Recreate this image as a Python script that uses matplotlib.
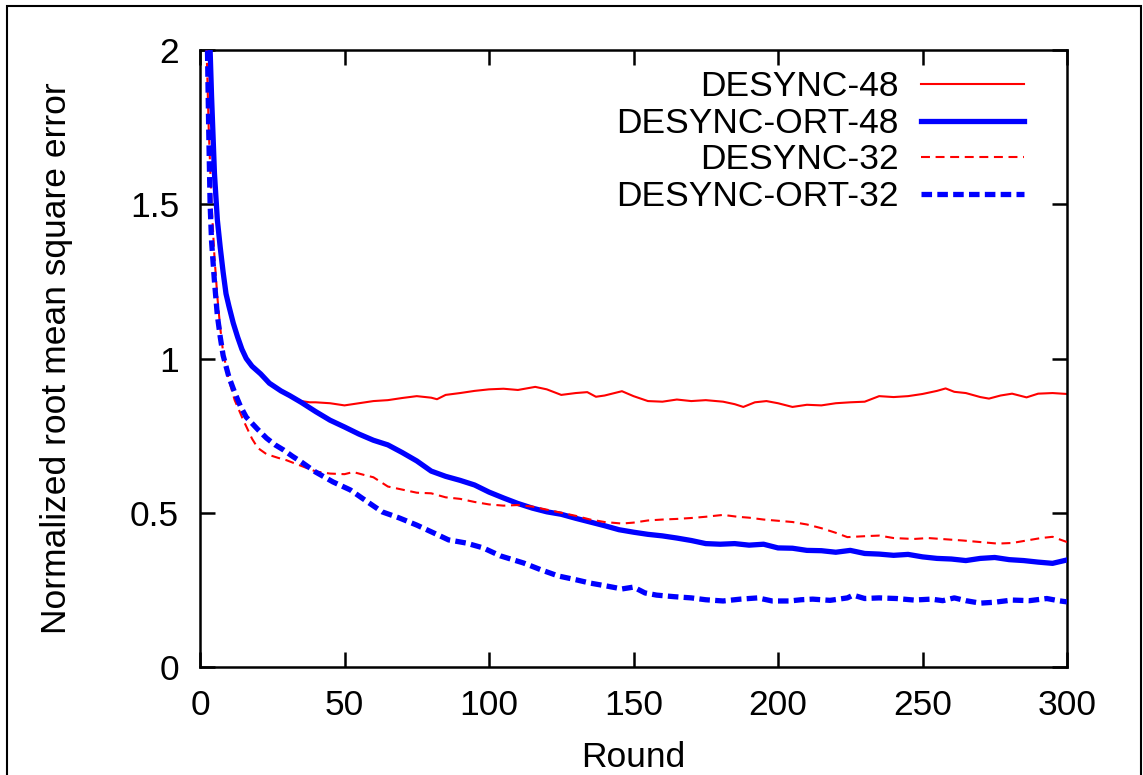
import matplotlib
matplotlib.use("Agg")
import matplotlib.pyplot as plt
from matplotlib.patches import Rectangle

plt.rcParams['font.family'] = ['Liberation Sans', 'DejaVu Sans']

# DESYNC-48
r_d48 = [3, 3.5, 4, 5, 6, 7, 8, 9, 10, 11.5, 13, 14.5, 16, 18, 21, 24, 28, 31, 35,
         38, 40, 45, 50, 55, 60, 65, 70, 75, 80, 82, 85, 90, 95, 100, 105, 110, 116,
         120, 125, 130, 134, 137, 140, 146, 150, 155, 160, 165, 170, 175, 181, 185,
         188, 192, 196, 200, 205, 210, 215, 220, 225, 230, 235, 240, 245, 250, 255,
         258, 261, 265, 270, 273, 277, 281, 286, 290, 295, 300]
v_d48 = [2.1, 1.98, 1.83, 1.58, 1.44, 1.35, 1.27, 1.2, 1.16, 1.11, 1.065, 1.028, 1.0,
         0.975, 0.95, 0.92, 0.895, 0.88, 0.862,
         0.858, 0.858, 0.855, 0.848, 0.855, 0.862, 0.865, 0.872, 0.878, 0.873, 0.868,
         0.882, 0.888, 0.895, 0.9, 0.902, 0.898, 0.908,
         0.9, 0.882, 0.888, 0.891, 0.876, 0.88, 0.894, 0.878, 0.862, 0.86, 0.867,
         0.862, 0.865, 0.86, 0.852,
         0.843, 0.858, 0.862, 0.855, 0.843, 0.85, 0.848, 0.855, 0.858, 0.86, 0.878,
         0.875, 0.878, 0.885, 0.895,
         0.903, 0.892, 0.888, 0.875, 0.87, 0.88, 0.886, 0.874, 0.886, 0.888, 0.885]

# DESYNC-ORT-48
r_o48 = [3, 3.5, 4, 5, 6, 7, 8, 9, 10, 11.5, 13, 14.5, 16, 18, 21, 24, 28, 31, 35,
         40, 45, 50, 55, 60, 65, 70, 75, 80, 85, 90, 95, 100, 105, 110, 115, 120, 125,
         130, 135, 140, 145, 150, 155, 160, 165, 170, 175, 180, 185, 190, 195, 200,
         205, 210, 215, 220, 225, 230, 235, 240, 245, 250, 255, 260, 265, 270, 275,
         280, 285, 290, 295, 300]
v_o48 = [2.1, 2.0, 1.85, 1.6, 1.45, 1.36, 1.28, 1.21, 1.17, 1.115, 1.07, 1.03, 1.0,
         0.975, 0.95, 0.92, 0.895, 0.88, 0.858,
         0.828, 0.8, 0.778, 0.755, 0.735, 0.72, 0.695, 0.668, 0.635, 0.618, 0.605,
         0.59, 0.567, 0.548, 0.53, 0.515, 0.503, 0.495,
         0.482, 0.47, 0.458, 0.445, 0.437, 0.43, 0.425, 0.418, 0.41, 0.4, 0.398, 0.4,
         0.395, 0.398, 0.386,
         0.385, 0.378, 0.377, 0.372, 0.378, 0.368, 0.366, 0.362, 0.365, 0.357, 0.352,
         0.35, 0.345, 0.352, 0.355,
         0.348, 0.345, 0.34, 0.336, 0.347]

# DESYNC-32
r_d32 = [2, 3, 4, 5, 6, 7, 8, 10, 12, 15, 18, 20, 23, 27, 30, 35, 40, 45, 50, 53, 57,
         60, 65, 70, 75, 80, 85, 90, 95, 100, 105, 110, 115, 120, 125, 130, 135, 140,
         146, 150, 155, 160, 165, 170, 175, 181, 186, 190, 195, 200, 205, 210, 215,
         220, 224, 230, 235, 240, 247, 252, 258, 264, 270, 276, 281, 286, 291, 295, 300]
v_d32 = [2.1, 1.75, 1.5, 1.33, 1.2, 1.1, 1.02, 0.93, 0.865, 0.8, 0.74, 0.71, 0.69,
         0.678, 0.67, 0.652, 0.634, 0.627, 0.625, 0.632, 0.622,
         0.615, 0.585, 0.575, 0.565, 0.563, 0.55, 0.545, 0.535, 0.527, 0.523, 0.525,
         0.52, 0.51, 0.5, 0.49, 0.478, 0.47,
         0.465, 0.468, 0.475, 0.478, 0.48, 0.483, 0.487, 0.493, 0.487, 0.484, 0.478,
         0.474, 0.47, 0.462, 0.45,
         0.435, 0.421, 0.424, 0.426, 0.418, 0.415, 0.418, 0.414, 0.41, 0.405, 0.4,
         0.402, 0.41, 0.418, 0.422, 0.405]

# DESYNC-ORT-32
r_o32 = [2.5, 3, 3.5, 4, 5, 6, 7, 8, 10, 12, 14, 16, 20, 23, 26, 29, 32, 35, 40, 46,
         52, 58, 63, 69, 75, 81, 86, 92, 98, 104, 112, 118, 124, 130, 135, 141, 146,
         150, 154, 158, 164, 170, 175, 181, 187, 193, 198, 204, 208, 212, 218, 224,
         226, 230, 235, 241, 247, 253, 257, 261, 265, 270, 275, 281, 287, 293, 297, 300]
v_o32 = [2.05, 1.75, 1.5, 1.38, 1.25, 1.14, 1.07, 1.01, 0.94, 0.89, 0.845, 0.81, 0.77,
         0.742, 0.72, 0.703, 0.683, 0.665, 0.632, 0.6,
         0.574, 0.535, 0.503, 0.483, 0.46, 0.434, 0.412, 0.402, 0.386, 0.36, 0.337,
         0.315, 0.295, 0.283, 0.272, 0.262, 0.253,
         0.259, 0.24, 0.233, 0.228, 0.224, 0.218, 0.214, 0.22, 0.224, 0.214, 0.214,
         0.218, 0.22, 0.216, 0.224,
         0.233, 0.222, 0.224, 0.222, 0.217, 0.22, 0.215, 0.224, 0.215, 0.207, 0.21,
         0.217, 0.215, 0.222, 0.215, 0.211]

x_ticks = [0, 50, 100, 150, 200, 250, 300]
y_ticks = [0, 0.5, 1, 1.5, 2]
y_tick_labels = ['0', '0.5', '1', '1.5', '2']

FS = 25.5

fig = plt.figure(figsize=(11.43, 7.75), dpi=100)
ax = fig.add_axes([200 / 1143, 108 / 775, 867 / 1143, 617 / 775])

ax.plot(r_d48, v_d48, color='#ff0000', lw=1.5, label='DESYNC-48', zorder=2)
ax.plot(r_o48, v_o48, color='#0000ff', lw=3.8, label='DESYNC-ORT-48', zorder=3)
ax.plot(r_d32, v_d32, color='#ff0000', lw=1.5, dashes=(4.3, 2.7),
        label='DESYNC-32', zorder=4)
ax.plot(r_o32, v_o32, color='#0000ff', lw=3.8, dashes=(2.0, 1.0),
        label='DESYNC-ORT-32', zorder=5)

ax.set_xlim(0, 300)
ax.set_ylim(0, 2)
ax.set_xticks(x_ticks)
ax.set_yticks(y_ticks)
ax.set_yticklabels(y_tick_labels)

for s in ax.spines.values():
    s.set_linewidth(1.8)
ax.tick_params(direction='in', length=11, width=1.8, top=True, right=True,
               labelsize=FS)
ax.tick_params(axis='x', pad=16)
ax.tick_params(axis='y', pad=15)

ax.set_xlabel('Round', fontsize=FS)
ax.set_ylabel('Normalized root mean square error', fontsize=FS)
ax.xaxis.set_label_coords(0.5, -0.12)
ax.yaxis.set_label_coords(-0.147, 0.5)

ax.legend(loc='upper right', bbox_to_anchor=(0.950, 0.967), frameon=False,
          markerfirst=False, fontsize=FS, handlelength=2.9, handletextpad=0.62,
          labelspacing=0.1, borderpad=0, borderaxespad=0)

# thin frame around the whole figure
fig.patches.append(Rectangle((7 / 1143, -0.05), 1134 / 1143, (769 / 775) + 0.05,
                             transform=fig.transFigure, fill=False,
                             edgecolor='black', lw=1.5))

fig.savefig('out.png', dpi=100)
